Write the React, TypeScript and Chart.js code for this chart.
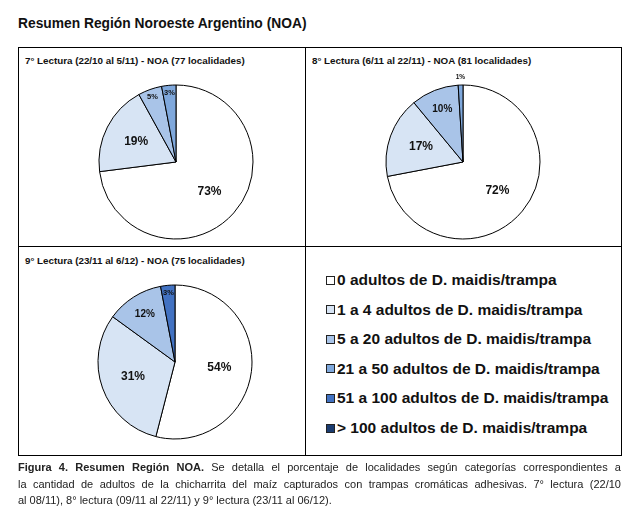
import React, { useEffect, useRef } from "react";
import { Chart, registerables } from "chart.js";

Chart.register(...registerables);

// ---- Data ----
const categories = [
  "0 adultos de D. maidis/trampa",
  "1 a 4 adultos de D. maidis/trampa",
  "5 a 20 adultos de D. maidis/trampa",
  "21 a 50 adultos de D. maidis/trampa",
  "51 a 100 adultos de D. maidis/trampa",
  "> 100 adultos de D. maidis/trampa",
];
const lectura7 = [73, 19, 5, 3, 0, 0];
const lectura8 = [72, 17, 10, 1, 0, 0];
const lectura9 = [54, 31, 12, 0, 3, 0];
const panelTitles = [
  "7° Lectura (22/10 al 5/11) - NOA (77 localidades)",
  "8° Lectura (6/11 al 22/11) - NOA (81 localidades)",
  "9° Lectura (23/11 al 6/12) - NOA (75 localidades)",
];
const mainTitle = "Resumen Región Noroeste Argentino (NOA)";
const captionBold = "Figura 4. Resumen Región NOA.";
const captionLines = [
  " Se detalla el porcentaje de localidades según categorías correspondientes a",
  "la cantidad de adultos de la chicharrita del maíz capturados con trampas cromáticas adhesivas. 7° lectura (22/10",
  "al 08/11), 8° lectura (09/11 al 22/11) y 9° lectura (23/11 al 06/12).",
];

// ---- Styles ----
const colors = ["#FFFFFF", "#D7E4F4", "#A9C4E8", "#7FA8DC", "#4272C2", "#1B3C70"];
const FONT = '"Liberation Sans", Arial, Helvetica, sans-serif';

function labelStyle(pct: number) {
  if (pct >= 15) return { f: 0.58, size: 12 };
  if (pct >= 8) return { f: 0.73, size: 10 };
  if (pct >= 2) return { f: 0.9, size: 7.5 };
  return { f: 1.1, size: 6.5 };
}

const pctLabels = {
  id: "pctLabels",
  afterDatasetsDraw(chart: any) {
    const ctx = chart.ctx;
    const meta = chart.getDatasetMeta(0);
    const data = chart.data.datasets[0].data as number[];
    ctx.save();
    ctx.textAlign = "center";
    ctx.textBaseline = "middle";
    ctx.fillStyle = "#111";
    meta.data.forEach((arc: any, i: number) => {
      const v = data[i];
      if (!v) return;
      const p = arc.getProps(["x", "y", "startAngle", "endAngle", "outerRadius"], true);
      const mid = (p.startAngle + p.endAngle) / 2;
      const st = labelStyle(v);
      const r = p.outerRadius * st.f;
      ctx.font = `bold ${st.size}px ${FONT}`;
      ctx.fillText(`${v}%`, p.x + Math.cos(mid) * r, p.y + Math.sin(mid) * r);
    });
    ctx.restore();
  },
};

function PieChart({ values, left, top }: { values: number[]; left: number; top: number }) {
  const ref = useRef<HTMLCanvasElement>(null);
  useEffect(() => {
    if (!ref.current) return;
    const chart = new Chart(ref.current, {
      type: "pie",
      data: {
        labels: categories,
        datasets: [
          {
            data: values,
            backgroundColor: colors,
            borderColor: "#000",
            borderWidth: 1,
          },
        ],
      },
      options: {
        responsive: false,
        animation: false,
        devicePixelRatio: 1,
        layout: { padding: 22.5 },
        plugins: { legend: { display: false }, tooltip: { enabled: false } },
        events: [],
      },
      plugins: [pctLabels],
    });
    return () => chart.destroy();
  }, [values]);
  return (
    <canvas
      ref={ref}
      width={200}
      height={200}
      style={{ position: "absolute", left, top, width: 200, height: 200 }}
    />
  );
}

const line = "#000";

export default function App() {
  return (
    <div
      style={{
        position: "absolute",
        left: 0,
        top: 0,
        width: 641,
        height: 526,
        background: "#fff",
        fontFamily: FONT,
        color: "#111",
        overflow: "hidden",
      }}
    >
      <div
        style={{
          position: "absolute",
          left: 18,
          top: 14,
          fontSize: 13.8,
          fontWeight: "bold",
          whiteSpace: "nowrap",
          lineHeight: "20px",
        }}
      >
        {mainTitle}
      </div>

      {/* Grid boxes */}
      <div style={{ position: "absolute", left: 18, top: 47, width: 602, height: 407, border: `1px solid ${line}` }} />
      <div style={{ position: "absolute", left: 305, top: 47, width: 1, height: 408, background: line }} />
      <div style={{ position: "absolute", left: 18, top: 246, width: 603, height: 1, background: line }} />

      {/* Panel titles */}
      {[
        { l: 25, t: 55 },
        { l: 312, t: 55 },
        { l: 25, t: 255 },
      ].map((p, i) => (
        <div
          key={i}
          style={{
            position: "absolute",
            left: p.l,
            top: p.t,
            fontSize: 9.8,
            fontWeight: "bold",
            whiteSpace: "nowrap",
            lineHeight: "12px",
          }}
        >
          {panelTitles[i]}
        </div>
      ))}

      <PieChart values={lectura7} left={76} top={62} />
      <PieChart values={lectura8} left={363} top={62} />
      <PieChart values={lectura9} left={75} top={262} />

      {/* Legend */}
      {categories.map((c, i) => (
        <div
          key={i}
          style={{
            position: "absolute",
            left: 326,
            top: 280 + i * 29.6 - 10,
            height: 20,
            display: "flex",
            alignItems: "center",
            whiteSpace: "nowrap",
          }}
        >
          <span
            style={{
              display: "inline-block",
              width: 7,
              height: 7,
              border: "1px solid #222",
              background: colors[i],
              marginRight: 2,
            }}
          />
          <span style={{ fontSize: 15.5, fontWeight: "bold" }}>{c}</span>
        </div>
      ))}

      {/* Caption */}
      <div style={{ position: "absolute", left: 18, top: 459, width: 603, fontSize: 11, lineHeight: "16.5px", color: "#222" }}>
        {captionLines.map((l, i) => (
          <div
            key={i}
            style={{
              whiteSpace: "nowrap",
              textAlign: i < 2 ? "justify" : "left",
              textAlignLast: i < 2 ? "justify" : "left",
              width: 603,
            } as any}
          >
            {i === 0 && <b>{captionBold}</b>}
            {l}
          </div>
        ))}
      </div>
    </div>
  );
}
